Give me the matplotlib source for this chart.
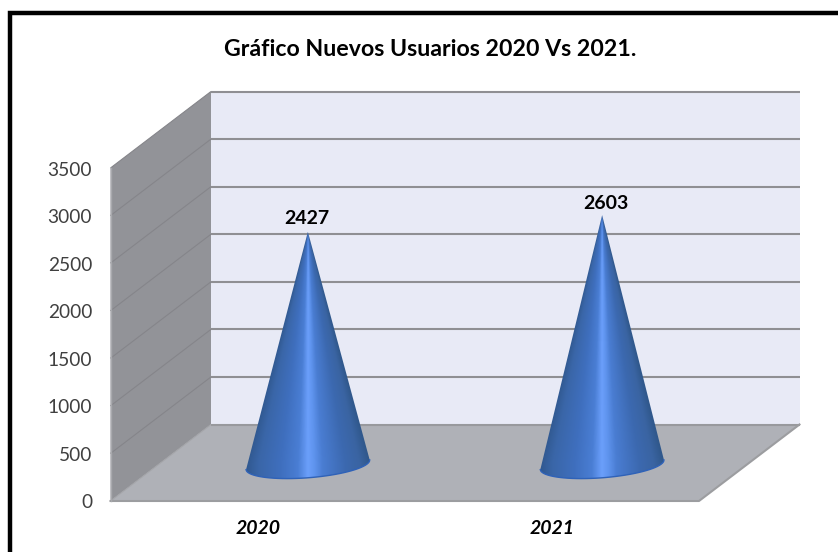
import numpy as np
import matplotlib.pyplot as plt
from matplotlib.patches import Polygon, PathPatch
from matplotlib.path import Path
from matplotlib.colors import LinearSegmentedColormap

# Data
years = ['2020', '2021']
values = [2427, 2603]
ticks = [0, 500, 1000, 1500, 2000, 2500, 3000, 3500]
title = 'Gráfico Nuevos Usuarios 2020 Vs 2021.'

plt.rcParams['font.family'] = ['Lato', 'DejaVu Sans']

W, H = 838, 552
fig = plt.figure(figsize=(W / 100, H / 100), dpi=100)
ax = fig.add_axes([0, 0, 1, 1])
ax.set_xlim(0, W)
ax.set_ylim(H, 0)
ax.axis('off')

# fake 3d: front plane corner, size and depth offset in pixels
x0, y0 = 110.5, 501
plot_w = 588.5
px_per_unit = 333 / 3500
dx, dy = 100.5, -76.5


def front(cat, val):
    # cat in category units (0..n), val in data units
    return x0 + cat * plot_w / len(years), y0 - val * px_per_unit


def back(cat, val):
    x, y = front(cat, val)
    return x + dx, y + dy


top = ticks[-1]
n = len(years)

# outer frame
ax.plot([10, 10, 838], [552, 13, 13], color='black', lw=3.2, solid_joinstyle='miter',
        solid_capstyle='butt', zorder=1)

# back wall, side wall, floor
ax.add_patch(Polygon([back(0, 0), back(n, 0), back(n, top), back(0, top)], fc='#e8eaf6', ec='none', zorder=2))
ax.add_patch(Polygon([front(0, 0), back(0, 0), back(0, top), front(0, top)], fc='#929398', ec='none', zorder=2))
ax.add_patch(Polygon([front(0, 0), front(n, 0), back(n, 0), back(0, 0)], fc='#afb1b7', ec='none', zorder=2))

# gridlines
for t in ticks:
    bx, by = back(0, t)
    ex, ey = back(n, t)
    fx, fy = front(0, t)
    if t > 0:
        ax.plot([fx, bx], [fy, by], color='#85858a', lw=0.8, zorder=3, solid_capstyle='butt')
        ax.plot([bx, ex], [by, ey], color='#8f8f93', lw=1.5, zorder=3, solid_capstyle='butt')
    else:
        ax.plot([fx, bx], [fy, by], color='#a3a4a8', lw=0.8, zorder=3, solid_capstyle='butt')
        ax.plot([bx, ex], [by, ey], color='#98999d', lw=1.5, zorder=3, solid_capstyle='butt')

# floor edges
ax.plot([front(0, 0)[0], front(n, 0)[0], back(n, 0)[0]],
        [front(0, 0)[1], front(n, 0)[1], back(n, 0)[1]], color='#9c9da0', lw=1.5, zorder=3)
ax.plot([front(0, 0)[0], front(0, top)[0]], [front(0, 0)[1], front(0, top)[1]], color='#a8a9ad', lw=1, zorder=3)

# axis labels
for t in ticks:
    fx, fy = front(0, t)
    ax.text(92, fy + 2, str(t), ha='right', va='center', fontsize=13.8, color='#404040', zorder=5)

# cone shading, u goes -1..1 around the cone
cone_cmap = LinearSegmentedColormap.from_list('cone', [
    (0.0, '#30588f'), (0.1, '#3a66a8'), (0.28, '#3f6fbe'), (0.42, '#4a7ed4'), (0.5, '#6b9ffb'),
    (0.55, '#5f94ee'), (0.62, '#4a7dd2'), (0.8, '#3c69b0'), (0.92, '#3a64a2'), (1.0, '#30588c')])
half_w = 62
tilt = np.radians(-4.5)
minor = 13
# label nudges, the labels do not sit evenly above the tips
label_dx = [-1.5, 3.5]
label_dy = [-13, -12]

for i, (year, val) in enumerate(zip(years, values)):
    cx, cy = front(i + 0.5, 0)
    cx, cy = cx + dx / 2, cy + dy / 2
    tip_x, tip_y = front(i + 0.5, val)
    tip_x, tip_y = tip_x + dx / 2, tip_y + dy / 2

    # base ellipse lower half, slightly tilted
    th = np.linspace(np.pi, 0, 40)
    ex = half_w * np.cos(th)
    ey = minor * np.sin(th)
    bx = cx + ex * np.cos(tilt) - ey * np.sin(tilt)
    by = cy + 2 + ex * np.sin(tilt) + ey * np.cos(tilt)
    verts = [(tip_x, tip_y)] + list(zip(bx[::-1], by[::-1])) + [(tip_x, tip_y)]
    codes = [Path.MOVETO] + [Path.LINETO] * (len(verts) - 2) + [Path.CLOSEPOLY]
    clip = PathPatch(Path(verts, codes), fc='none', ec='none', transform=ax.transData)
    ax.add_patch(clip)

    yy = np.linspace(tip_y, by.max() + 1, 300)
    xx = np.linspace(cx - half_w - 2, cx + half_w + 2, 260)
    gx, gy = np.meshgrid(xx, yy)
    spread = np.clip((gy - tip_y) / (cy - tip_y), 0.01, 1) * half_w
    u = np.clip((gx - tip_x) / spread, -1, 1)
    im = ax.imshow((u + 1) / 2, cmap=cone_cmap, vmin=0, vmax=1, aspect='auto',
                   extent=[xx[0], xx[-1], yy[-1], yy[0]], zorder=4)
    im.set_clip_path(clip)
    ax.plot(bx, by, color='#2f62b8', lw=1, zorder=4)

    ax.text(tip_x + label_dx[i], tip_y + label_dy[i], str(val), ha='center', va='center', fontsize=14,
            fontweight='bold', color='black', zorder=5)
    lx, ly = front(i + 0.5, 0)
    ax.text(lx, 529, year, ha='center', va='center', fontsize=14, fontweight='bold',
            fontstyle='italic', color='black', zorder=5)

ax.set_xlim(0, W)
ax.set_ylim(H, 0)

ax.text(430, 49, title, ha='center', va='center', fontsize=16.7, fontweight='bold', color='black', zorder=5)

fig.savefig('out.png', dpi=100)
